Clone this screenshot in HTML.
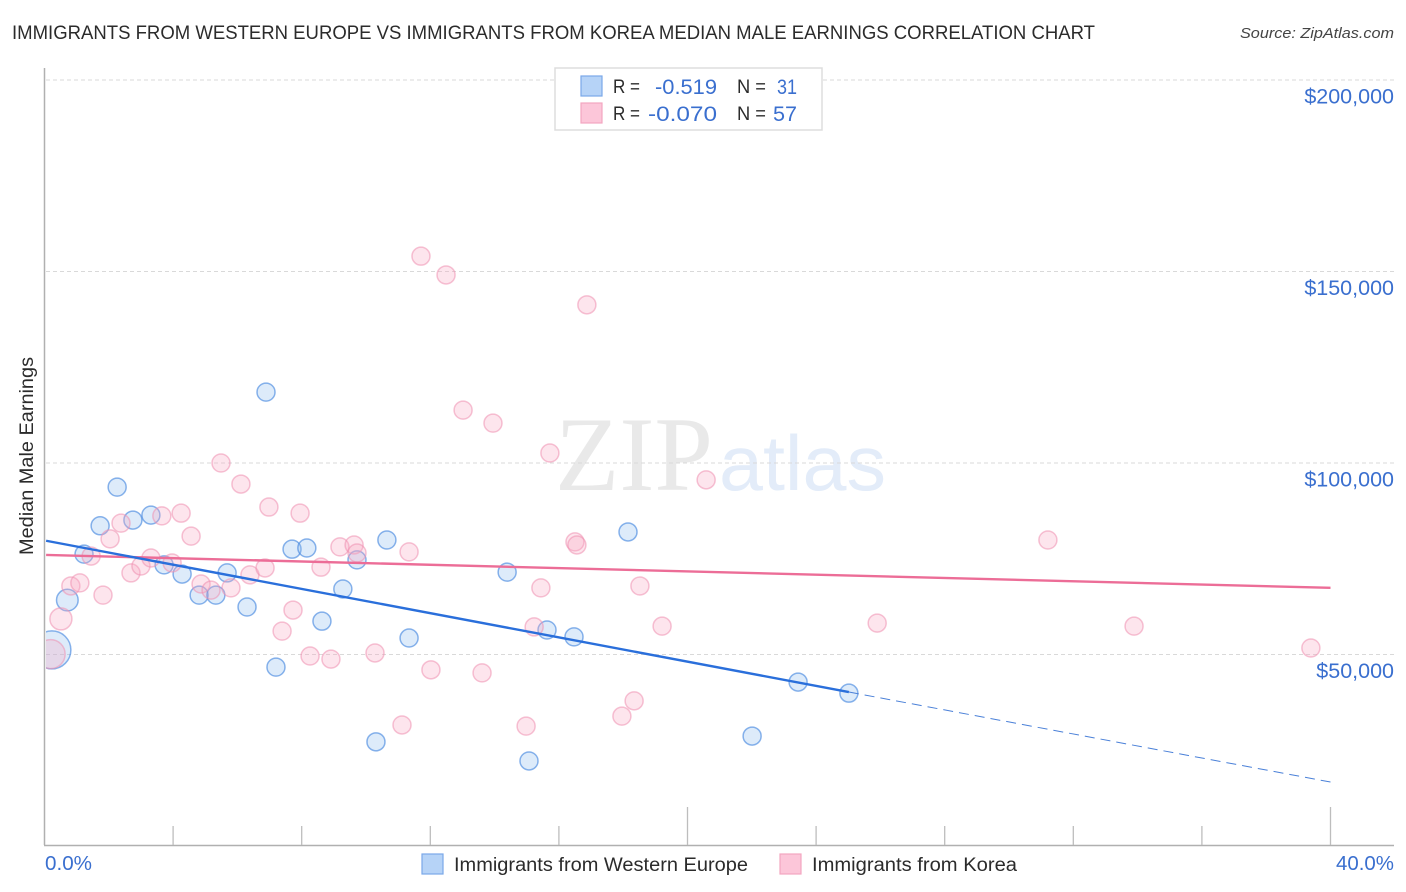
<!DOCTYPE html>
<html lang="en">
<head>
<meta charset="utf-8">
<title>Immigrants from Western Europe vs Immigrants from Korea Median Male Earnings Correlation Chart</title>
<style>
html,body{margin:0;padding:0;background:#fff;width:1406px;height:892px;overflow:hidden}
svg{display:block;font-family:"Liberation Sans",sans-serif}
</style>
</head>
<body>
<svg id="chart" xmlns="http://www.w3.org/2000/svg" width="1406" height="892" viewBox="0 0 1406 892">
<rect x="0" y="0" width="1406" height="892" fill="#ffffff"/>
<text x="12" y="39" font-size="19" fill="#2b2b2b" textLength="1083" lengthAdjust="spacingAndGlyphs">IMMIGRANTS FROM WESTERN EUROPE VS IMMIGRANTS FROM KOREA MEDIAN MALE EARNINGS CORRELATION CHART</text>
<text x="1394" y="38" font-size="15" font-style="italic" fill="#444444" text-anchor="end" textLength="154" lengthAdjust="spacingAndGlyphs">Source: ZipAtlas.com</text>
<g>
<text x="555" y="490" font-family="'Liberation Serif',serif" font-size="106" fill="#e9e9e9" textLength="158" lengthAdjust="spacingAndGlyphs">ZIP</text>
<text x="719" y="490" font-size="78" fill="#e3ecf9" textLength="167" lengthAdjust="spacingAndGlyphs">atlas</text>
</g>
<g id="grid"></g>
<g id="points"></g>
<rect x="0" y="60" width="46" height="785" fill="#ffffff"/>
<line x1="44.5" y1="68" x2="44.5" y2="845" stroke="#b0b0b0" stroke-width="1.5"/>
<line x1="44" y1="845.5" x2="1394" y2="845.5" stroke="#b0b0b0" stroke-width="1.5"/>
<g id="x-ticks"></g>
<g id="y-labels"></g>
<text transform="translate(33,456) rotate(-90)" font-size="19" fill="#2b2b2b" text-anchor="middle" textLength="198" lengthAdjust="spacingAndGlyphs">Median Male Earnings</text>
<g id="trends"></g>
<g>
<rect x="555" y="68" width="267" height="62" fill="#ffffff" stroke="#dddddd" stroke-width="1.5"/>
<rect x="581" y="76" width="21" height="20" fill="#b6d3f7" stroke="#7aa8e8" stroke-width="1.2"/>
<rect x="581" y="103" width="21" height="20" fill="#fcc6d9" stroke="#f2a6c0" stroke-width="1.2"/>
<text x="613" y="93" font-size="19" fill="#2b2b2b" textLength="27" lengthAdjust="spacingAndGlyphs">R =</text>
<text x="655" y="94" font-size="21" fill="#3a6fcf" textLength="62" lengthAdjust="spacingAndGlyphs">-0.519</text>
<text x="737" y="93" font-size="19" fill="#2b2b2b" textLength="29" lengthAdjust="spacingAndGlyphs">N =</text>
<text x="777" y="94" font-size="21" fill="#3a6fcf" textLength="20" lengthAdjust="spacingAndGlyphs">31</text>
<text x="613" y="120" font-size="19" fill="#2b2b2b" textLength="27" lengthAdjust="spacingAndGlyphs">R =</text>
<text x="648" y="121" font-size="21" fill="#3a6fcf" textLength="69" lengthAdjust="spacingAndGlyphs">-0.070</text>
<text x="737" y="120" font-size="19" fill="#2b2b2b" textLength="29" lengthAdjust="spacingAndGlyphs">N =</text>
<text x="773" y="121" font-size="21" fill="#3a6fcf" textLength="24" lengthAdjust="spacingAndGlyphs">57</text>
</g>
<text x="45" y="870" font-size="20" fill="#3a6fcf" textLength="47" lengthAdjust="spacingAndGlyphs">0.0%</text>
<text x="1394" y="870" font-size="20" fill="#3a6fcf" text-anchor="end" textLength="58" lengthAdjust="spacingAndGlyphs">40.0%</text>
<g>
<rect x="422" y="854" width="21" height="20" fill="#b6d3f7" stroke="#7aa8e8" stroke-width="1.2"/>
<text x="454" y="871" font-size="19" fill="#2b2b2b" textLength="294" lengthAdjust="spacingAndGlyphs">Immigrants from Western Europe</text>
<rect x="780" y="854" width="21" height="20" fill="#fcc6d9" stroke="#f2a6c0" stroke-width="1.2"/>
<text x="812" y="871" font-size="19" fill="#2b2b2b" textLength="205" lengthAdjust="spacingAndGlyphs">Immigrants from Korea</text>
</g>
</svg>
<script>
// Chart data
const yTickValues = [50000, 100000, 150000, 200000];
const yTickLabels = ["$50,000", "$100,000", "$150,000", "$200,000"];
const xTickValues = [4, 8, 12, 16, 20, 24, 28, 32, 36, 40];
const xMajorTicks = [20, 40];

const westernEuropePct = [0.23,0.71,1.23,1.73,2.26,2.75,3.31,3.72,4.28,4.81,5.33,5.68,6.30,6.89,7.20,7.70,8.16,8.63,9.28,9.72,10.31,10.65,11.34,14.39,15.07,15.63,16.47,18.15,22.01,23.44,25.02];
const westernEuropeEarningsK = [51.2,64.2,76.2,83.6,93.7,85.1,86.4,73.4,71.0,65.5,65.5,71.3,62.4,118.5,46.7,77.5,77.8,58.7,67.1,74.7,27.2,79.9,54.3,71.5,22.2,56.4,54.6,82.0,28.7,42.8,39.9];
const westernEuropePopulation = [40,13,9,9,9,9,9,9,9,9,9,9,9,9,9,9,9,9,9,9,9,9,9,9,9,9,9,9,9,9,9];

const koreaPct = [0.19,0.51,0.82,1.10,1.45,1.82,2.04,2.38,2.69,3.00,3.31,3.65,3.97,4.25,4.56,4.87,5.18,5.49,5.80,6.11,6.39,6.86,6.98,7.39,7.73,7.95,8.26,8.60,8.91,9.19,9.63,9.72,10.28,11.34,11.71,12.02,12.49,13.02,13.61,13.95,11.12,14.98,15.23,15.44,15.72,16.50,16.56,16.87,17.96,18.34,18.52,19.21,20.58,25.90,31.21,33.89,39.39];
const koreaEarningsK = [50.1,59.3,67.9,68.7,75.7,65.5,80.2,84.3,71.3,73.1,75.2,86.2,73.9,86.9,80.9,68.4,66.8,100.0,67.4,94.5,70.8,72.6,88.5,56.1,61.6,86.9,49.6,72.8,48.8,78.1,78.6,76.5,50.4,76.8,154.0,46.0,149.1,113.8,45.2,110.4,31.6,31.3,57.2,67.4,102.6,79.4,78.6,141.3,33.9,37.9,67.9,57.4,95.6,58.2,79.9,57.4,51.7];
const koreaPopulation = [23.4,13.5,9,9,9,9,9,9,9,9,9,9,9,9,9,9,9,9,9,9,9,9,9,9,9,9,9,9,9,9,9,9,9,9,9,9,9,9,9,9,9,9,9,9,9,9,9,9,9,9,9,9,9,9,9,9,9];

const westernEuropeTrendPct = [0.05, 25.02];
const westernEuropeTrendK = [79.7, 40.2];
const westernEuropeForecastPct = [25.02, 40];
const westernEuropeForecastK = [40.2, 16.7];
const koreaTrendPct = [0.05, 40];
const koreaTrendK = [76.0, 67.4];

// Axis functions
const SVG_NS = 'http://www.w3.org/2000/svg';
function xScale(pct) { return 44.5 + pct * 32.15; }
function yScale(dollars) { return 654.5 - (dollars - 50000) * 0.00383; }
function radius(pop) { return 3 * Math.sqrt(pop); }
function make(tag, attrs, parent) {
  const el = document.createElementNS(SVG_NS, tag);
  for (const k in attrs) el.setAttribute(k, attrs[k]);
  parent.appendChild(el);
  return el;
}

const gridGroup = document.getElementById('grid');
const yLabelGroup = document.getElementById('y-labels');
yTickValues.forEach(function (v, i) {
  const y = yScale(v);
  const line = make('line', {x1: 46, x2: 1394, y1: y, y2: y, stroke: '#d9d9d9', 'stroke-width': 1, 'stroke-dasharray': '4 3'}, gridGroup);
  
  
  const label = make('text', {x: 1394, y: y + 23.5, 'font-size': 21.5, fill: '#3a6fcf', 'text-anchor': 'end'}, yLabelGroup);
  label.textContent = yTickLabels[i];
  
  
});

const xTickGroup = document.getElementById('x-ticks');
xTickValues.forEach(function (v) {
  const x = xScale(v);
  const top = xMajorTicks.indexOf(v) >= 0 ? 807 : 826;
  const tick = make('line', {x1: x, x2: x, y1: top, y2: 845, stroke: '#bdbdbd', 'stroke-width': 1.3}, xTickGroup);
  
  
});

const pointGroup = document.getElementById('points');
function drawSeries(pcts, values, pops, fill, stroke, strokeOpacity) {
  pcts.forEach(function (p, i) {
    const dot = make('circle', {
      cx: xScale(p), cy: yScale(values[i] * 1000), r: radius(pops[i]),
      fill: fill, 'fill-opacity': 0.3, stroke: stroke, 'stroke-opacity': strokeOpacity, 'stroke-width': 1.5
    }, pointGroup);
    
    
  });
}
drawSeries(westernEuropePct, westernEuropeEarningsK, westernEuropePopulation, '#8fbdf0', '#4a8ae0', 0.65);
drawSeries(koreaPct, koreaEarningsK, koreaPopulation, '#f8a8c4', '#ee8fb0', 0.55);

const trendGroup = document.getElementById('trends');
function drawLine(pcts, values, color, width, dash) {
  const attrs = {x1: xScale(pcts[0]), y1: yScale(values[0] * 1000), x2: xScale(pcts[1]), y2: yScale(values[1] * 1000), stroke: color, 'stroke-width': width};
  if (dash) attrs['stroke-dasharray'] = dash;
  return make('line', attrs, trendGroup);
}
const koreaLine = drawLine(koreaTrendPct, koreaTrendK, '#ec6d97', 2.4);


const westernLine = drawLine(westernEuropeTrendPct, westernEuropeTrendK, '#2a6fdb', 2.4);


const forecastLine = drawLine(westernEuropeForecastPct, westernEuropeForecastK, '#4a80d8', 1, '10 6');


</script>
</body>
</html>
